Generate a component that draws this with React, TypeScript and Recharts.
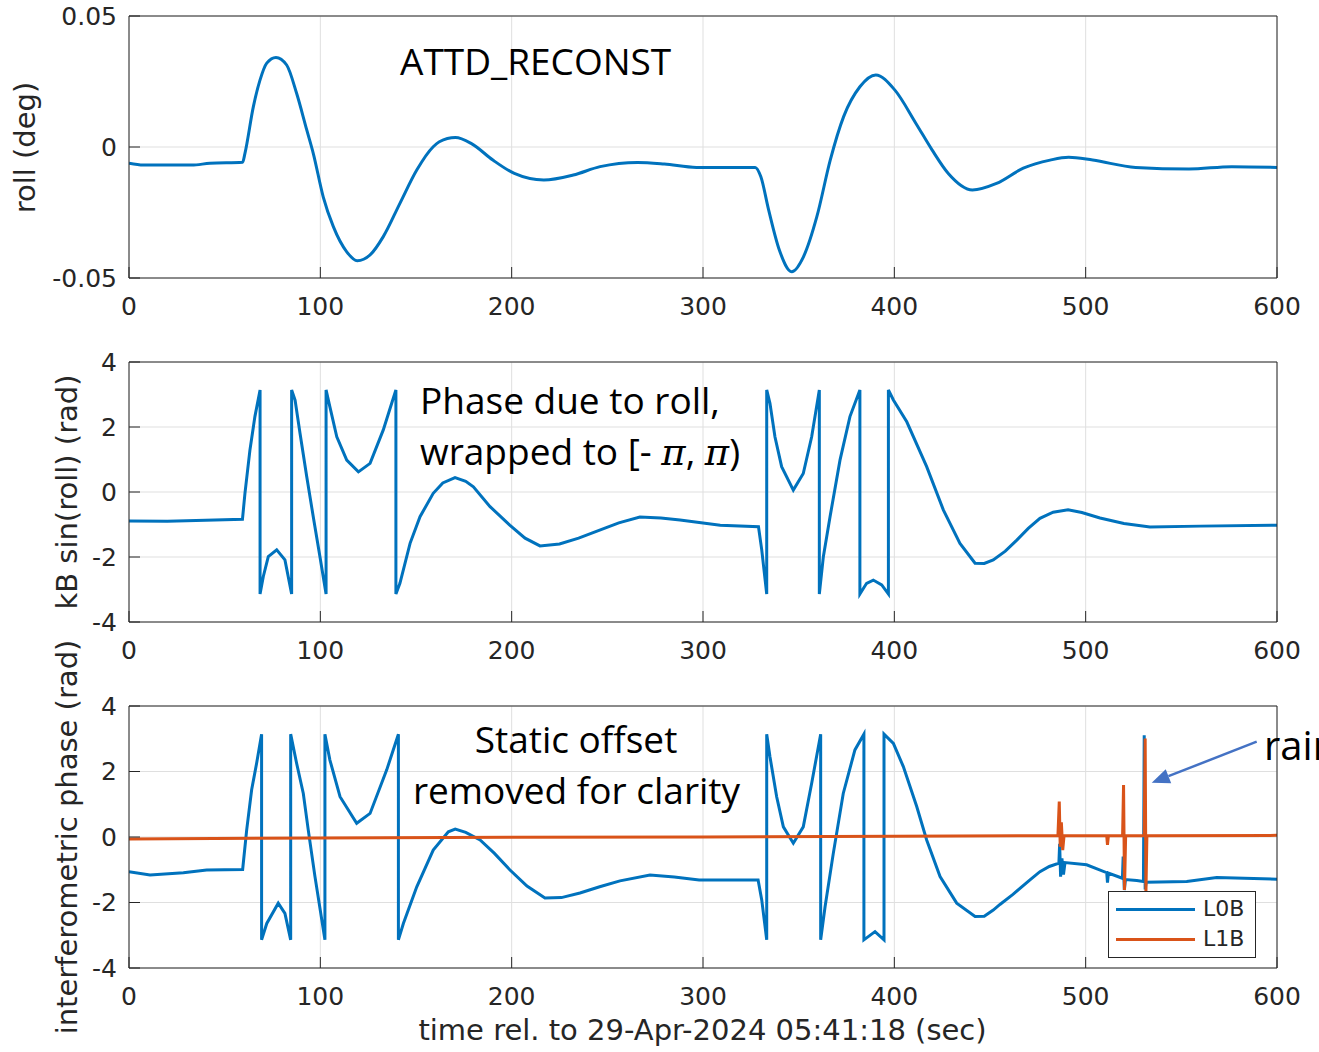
import React from 'react';
import { LineChart, Line, XAxis, YAxis, CartesianGrid, Legend } from 'recharts';

// ---------- data ----------
const xTicks = [0, 100, 200, 300, 400, 500, 600];
const rollTicks = [-0.05, 0, 0.05];
const phaseTicks = [-4, -2, 0, 2, 4];

// roll (deg) vs time (s)
const rollSeries: [number, number][] = [
  [0, -0.0062], [7.5, -0.0069], [20, -0.0069], [32.8, -0.0069], [42.3, -0.0062], [59.4, -0.0058],
  [60.6, -0.0024], [65, 0.0154], [68.5, 0.0256], [72, 0.032], [76.8, 0.0342], [82.4, 0.0313],
  [87.6, 0.0205], [92.9, 0.0065], [96.3, -0.0024], [101.5, -0.019], [106.8, -0.0304], [113.8, -0.04],
  [119.3, -0.0434], [126, -0.0412], [132.9, -0.0342], [141.6, -0.0215], [150.4, -0.0088], [159, 0.0001],
  [162.2, 0.002], [170.6, 0.0036], [179, 0.0013], [190.2, -0.005], [201.4, -0.0101], [216.8, -0.0126],
  [232.2, -0.0107], [246.2, -0.0075], [265.8, -0.0059], [279.8, -0.0065], [296.6, -0.0078], [327.3, -0.0078],
  [330.2, -0.0113], [334.3, -0.024], [339.9, -0.0393], [346.4, -0.0476], [352.5, -0.0419], [359.5, -0.0266],
  [366.5, -0.005], [373.5, 0.0116], [382, 0.023], [390.3, 0.0275], [400.2, 0.0218], [411.3, 0.009],
  [419.7, -0.0011], [428.2, -0.0101], [440.8, -0.0164], [453.4, -0.0139], [467.4, -0.0081], [481.4, -0.005],
  [491.1, -0.0039], [503.7, -0.005], [526.1, -0.0078], [554, -0.0084], [576.4, -0.0075], [600, -0.0078],
];

// kB sin(roll), wrapped to [-pi, pi)
const wrappedSeries: [number, number][] = [
  [0, -0.89], [20, -0.9], [40, -0.87], [59.3, -0.84], [60.6, -0.04], [63.2, 1.29], [65.8, 2.32],
  [68.5, 3.14], [68.5, -3.14], [70.2, -2.6], [72.8, -1.99], [77.2, -1.78], [81.5, -2.09], [85, -3.14],
  [85, 3.14], [86.8, 2.83], [89.4, 1.8], [92.9, 0.47], [96.3, -0.76], [99.8, -1.99], [103, -3.14],
  [103, 3.14], [105, 2.62], [108.6, 1.7], [113.8, 0.98], [119.9, 0.62], [126, 0.88], [132.9, 1.91],
  [137.3, 2.73], [139.5, 3.14], [139.5, -3.14], [141.6, -2.81], [146.9, -1.58], [152.1, -0.76],
  [159, -0.04], [164, 0.28], [170.4, 0.44], [176, 0.33], [180, 0.16], [188.7, -0.45], [199, -1.02],
  [207, -1.42], [214.8, -1.66], [225, -1.6], [235, -1.42], [246, -1.17], [256, -0.95], [267, -0.77],
  [278, -0.8], [288, -0.86], [309, -1.02], [329, -1.07], [330.7, -1.78], [333.3, -3.14],
  [333.3, 3.14], [335, 2.73], [337.6, 1.7], [341.1, 0.78], [347.2, 0.06], [352.4, 0.57], [356.8, 1.7],
  [360.8, 3.14], [360.8, -3.14], [362.9, -1.99], [366.4, -0.76], [371.6, 0.98], [376.8, 2.32], [382, 3.14],
  [382, -3.14], [385.5, -2.81], [389, -2.71], [393.4, -2.86], [396.9, -3.14], [396.9, 3.14], [399.5, 2.83],
  [406.5, 2.16], [416.9, 0.78], [425.6, -0.55], [434.3, -1.58], [442.2, -2.19], [447, -2.2],
  [451.7, -2.09], [458, -1.82], [464, -1.48], [470, -1.12], [476.1, -0.81], [483, -0.62], [490.8, -0.55],
  [498, -0.63], [507.5, -0.8], [520, -0.97], [533.6, -1.08], [559.8, -1.05], [600, -1.02],
];

// interferometric phase, L0B
const l0bSeries: [number, number][] = [
  [0, -1.06], [11, -1.16], [28.4, -1.09], [40.6, -1.01], [59.4, -0.99], [61.5, 0.21], [64.1, 1.44],
  [66.7, 2.25], [69.3, 3.14], [69.3, -3.14], [72, -2.64], [78, -2.02], [81.5, -2.33], [84.5, -3.14],
  [84.5, 3.14], [87.6, 2.25], [91.1, 1.33], [93.7, 0.21], [97.2, -1.21], [102.4, -3.14], [102.4, 3.14],
  [105, 2.35], [110.3, 1.23], [119, 0.42], [126, 0.72], [134.7, 2.05], [140.8, 3.14], [140.8, -3.14],
  [143.4, -2.64], [150.4, -1.52], [159, -0.4], [166.9, 0.16], [170.5, 0.24], [176, 0.14], [183.5, -0.09],
  [191, -0.5], [199, -1.0], [208, -1.5], [217.4, -1.86], [226, -1.85], [235.7, -1.71], [246, -1.52],
  [256.6, -1.34], [272.3, -1.16], [285, -1.22], [298, -1.31], [328.8, -1.31],
  [330.7, -1.92], [333.3, -3.14], [333.3, 3.14], [335, 2.45], [338.5, 1.23], [342, 0.31], [347.2, -0.19],
  [352.4, 0.31], [356.8, 1.64], [361.5, 3.14], [361.5, -3.14], [363.8, -2.13], [368.1, -0.5], [373.3, 1.33],
  [379.4, 2.66], [384.1, 3.14], [384.1, -3.14], [389.9, -2.89], [394.6, -3.14], [394.6, 3.14], [399.5, 2.86],
  [404.7, 2.15], [411.7, 0.93], [416.9, -0.09], [423.9, -1.21], [432.6, -2.02], [442.2, -2.43],
  [447, -2.42], [451.7, -2.23], [455.2, -2.06], [462, -1.75], [470.9, -1.31], [476.1, -1.06], [481, -0.9],
  [486, -0.8], [486.4, -0.21], [486.9, -1.21], [487.6, -0.65], [488.4, -1.15], [489.2, -0.78],
  [500.5, -0.85], [511, -1.09], [511.4, -1.39], [511.9, -1.1], [519.2, -1.26], [519.6, -0.6],
  [520.2, -1.62], [520.8, -1.3], [526.7, -1.33], [530.2, -1.36], [530.6, 3.11], [531.1, -1.6],
  [531.6, -1.38], [552.8, -1.36], [568.5, -1.24], [600, -1.29],
];

// interferometric phase, L1B
const l1bSeries: [number, number][] = [
  [0, -0.06], [100, -0.03], [200, -0.01], [300, 0], [400, 0.02], [485.5, 0.04], [486.2, 1.08],
  [486.7, -0.3], [487.3, 0.45], [488, -0.4], [488.7, 0.04], [511, 0.04], [511.4, -0.24], [511.9, 0.04],
  [519.3, 0.04], [519.8, 1.59], [520.3, -1.62], [520.9, 0.04], [530.6, 0.04], [531.1, 3.01],
  [531.5, -1.7], [532, 0.04], [600, 0.05],
];

const toRows = (s: [number, number][]) => s.map(([t, v]) => ({ t, v }));

// ---------- styles ----------
const BLUE = '#0072BD';
const ORANGE = '#D95319';
const AX = '#262626';
const GRID = '#dfdfdf';
const tickFont = { fill: AX, fontSize: 25, fontFamily: 'DejaVu Sans' };
const annFont = 'Open Sans';
const LW = 3;

const frame = { stroke: AX, strokeWidth: 1 };

const axes = (yDomain: [number, number], yTicks: number[]) => [
  <CartesianGrid key="g" stroke={GRID} strokeWidth={1} />,
  <XAxis
    key="xb" dataKey="t" type="number" domain={[0, 600]} ticks={xTicks} interval={0} allowDataOverflow
    height={30} tickSize={-11} tickMargin={30} tick={tickFont} axisLine={frame} tickLine={frame}
  />,
  <XAxis
    key="xt" xAxisId="top" orientation="top" dataKey="t" type="number" domain={[0, 600]} ticks={xTicks}
    interval={0} allowDataOverflow height={1} tickSize={-11} tick={false} axisLine={frame} tickLine={frame}
  />,
  <YAxis
    key="yl" type="number" domain={yDomain} ticks={yTicks} interval={0} allowDataOverflow width={60}
    tickSize={-11} tickMargin={23} tick={tickFont} tickFormatter={(v: number) => String(v)}
    axisLine={frame} tickLine={frame}
  />,
  <YAxis
    key="yr" yAxisId="right" orientation="right" type="number" domain={yDomain} ticks={yTicks} interval={0}
    allowDataOverflow width={1} tickSize={-11} tick={false} axisLine={frame} tickLine={frame}
  />,
];

const margin = { top: 15, right: 41, left: 69, bottom: 22 };

const LegendBox = (props: any) => {
  const payload = props.payload || [];
  return (
    <div
      style={{
        width: 146, height: 63, border: `1px solid ${AX}`, background: '#fff', paddingTop: 2,
        boxSizing: 'content-box',
      }}
    >
      {payload.map((p: any) => (
        <div key={p.value} style={{ display: 'flex', alignItems: 'center', height: 30 }}>
          <div style={{ width: 79, height: 3, background: p.color, marginLeft: 7 }} />
          <span style={{ marginLeft: 8, fontFamily: 'DejaVu Sans', fontSize: 22, color: AX, lineHeight: '30px' }}>
            {p.value}
          </span>
        </div>
      ))}
    </div>
  );
};

// arrow annotation geometry (page pixels)
const arrowTail = { x: 1256.7, y: 741.7 };
const arrowTip = { x: 1151.7, y: 782.7 };
const arrowHead = () => {
  const dx = arrowTip.x - arrowTail.x;
  const dy = arrowTip.y - arrowTail.y;
  const len = Math.hypot(dx, dy);
  const ux = dx / len, uy = dy / len;
  const hl = 18, hw = 7.5;
  const bx = arrowTip.x - ux * hl, by = arrowTip.y - uy * hl;
  const nx = uy, ny = -ux;
  return {
    base: { x: bx, y: by },
    pts: `${arrowTip.x},${arrowTip.y} ${bx + nx * hw},${by + ny * hw} ${bx - nx * hw},${by - ny * hw}`,
  };
};

export default function App() {
  const head = arrowHead();
  return (
    <div style={{ position: 'absolute', left: 0, top: 0, width: 1319, height: 1052, background: '#fff', overflow: 'hidden' }}>
      <div style={{ position: 'absolute', left: 0, top: 0 }}>
        <LineChart width={1319} height={330} margin={margin}>
          {axes([-0.05, 0.05], rollTicks)}
          <Line data={toRows(rollSeries)} dataKey="v" type="monotone" stroke={BLUE} strokeWidth={LW}
            dot={false} activeDot={false} isAnimationActive={false} />
        </LineChart>
      </div>
      <div style={{ position: 'absolute', left: 0, top: 346 }}>
        <LineChart width={1319} height={328} margin={margin}>
          {axes([-4, 4], phaseTicks)}
          <Line data={toRows(wrappedSeries)} dataKey="v" type="linear" stroke={BLUE} strokeWidth={LW}
            dot={false} activeDot={false} isAnimationActive={false} />
        </LineChart>
      </div>
      <div style={{ position: 'absolute', left: 0, top: 690 }}>
        <LineChart width={1319} height={330} margin={margin}>
          {axes([-4, 4], phaseTicks)}
          <Line data={toRows(l0bSeries)} name="L0B" dataKey="v" type="linear" stroke={BLUE} strokeWidth={LW}
            dot={false} activeDot={false} isAnimationActive={false} />
          <Line data={toRows(l1bSeries)} name="L1B" dataKey="v" type="linear" stroke={ORANGE} strokeWidth={LW}
            dot={false} activeDot={false} isAnimationActive={false} />
          <Legend
            layout="horizontal" verticalAlign="middle" align="center" content={LegendBox}
            wrapperStyle={{ left: 1108, top: 201, width: 148, height: 67, margin: 0 }}
          />
        </LineChart>
      </div>

      <svg width={1319} height={1052} style={{ position: 'absolute', left: 0, top: 0, pointerEvents: 'none' }}>
        {/* axis titles */}
        <g fontFamily="DejaVu Sans" fontSize={29} fill={AX} textAnchor="middle">
          <text transform="translate(34.5,147.5) rotate(-90)">roll (deg)</text>
          <text transform="translate(76.5,492) rotate(-90)">kB sin(roll) (rad)</text>
          <text transform="translate(76.5,837) rotate(-90)">interferometric phase (rad)</text>
          <text x={702.5} y={1040}>time rel. to 29-Apr-2024 05:41:18 (sec)</text>
        </g>
        {/* annotations */}
        <g fontFamily={annFont} fontSize={37} fill="#000">
          <text x={400} y={75}>ATTD_RECONST</text>
          <text x={420} y={414}>Phase due to roll,</text>
          <text x={420} y={465}>
            {'wrapped to [- '}
            <tspan fontFamily="DejaVu Serif" fontStyle="italic">π</tspan>
            {', '}
            <tspan fontFamily="DejaVu Serif" fontStyle="italic">π</tspan>
            {')'}
          </text>
          <text x={576} y={753} textAnchor="middle">Static offset</text>
          <text x={576.5} y={804} textAnchor="middle">removed for clarity</text>
          <text x={1264} y={760} fontSize={40}>rain</text>
        </g>
        <line x1={arrowTail.x} y1={arrowTail.y} x2={head.base.x} y2={head.base.y} stroke="#4472C4" strokeWidth={2.5} />
        <polygon points={head.pts} fill="#4472C4" />
      </svg>
    </div>
  );
}
